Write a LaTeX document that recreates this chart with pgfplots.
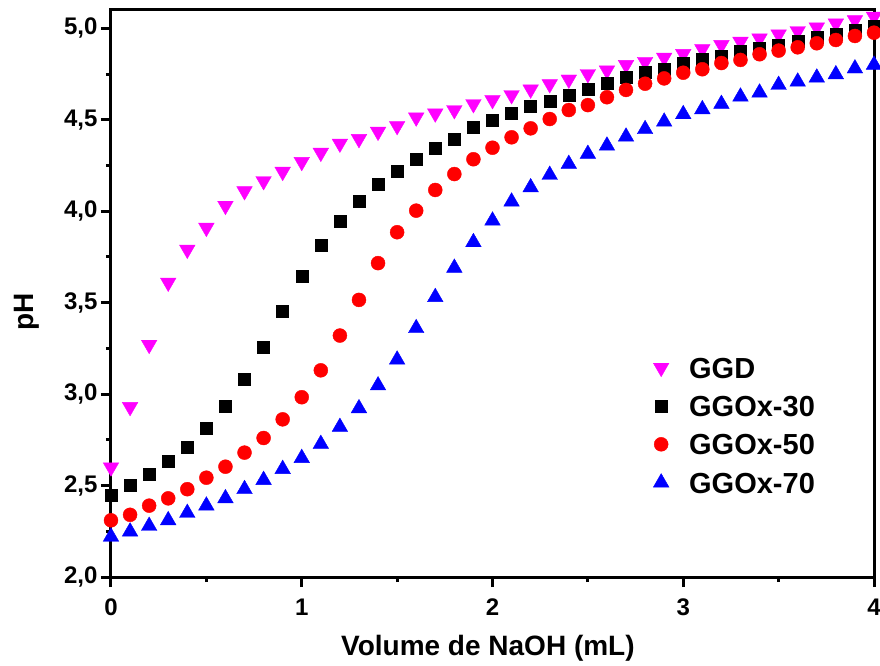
\documentclass[border=0pt]{standalone}
\usepackage{fontspec}
\setmainfont{Liberation Sans}
\usepackage{pgfplots}
\usepackage{pgfplotstable}
\pgfplotsset{compat=1.18}
\definecolor{cggd}{RGB}{255,0,255}
\definecolor{c30}{RGB}{0,0,0}
\definecolor{c50}{RGB}{255,0,0}
\definecolor{c70}{RGB}{0,0,255}

\pgfplotstableread{
x y
0 2.60
0.1 2.93
0.2 3.27
0.3 3.61
0.4 3.79
0.5 3.91
0.6 4.03
0.7 4.11
0.8 4.165
0.9 4.216
1.0 4.27
1.1 4.32
1.2 4.37
1.3 4.395
1.4 4.435
1.5 4.466
1.6 4.513
1.7 4.535
1.8 4.553
1.9 4.586
2.0 4.608
2.1 4.635
2.2 4.666
2.3 4.695
2.4 4.72
2.5 4.75
2.6 4.77
2.7 4.80
2.8 4.817
2.9 4.84
3.0 4.86
3.1 4.887
3.2 4.909
3.3 4.927
3.4 4.945
3.5 4.967
3.6 4.985
3.7 5.005
3.8 5.027
3.9 5.045
4.0 5.064
}\ggd

\pgfplotstableread{
x y
0 2.448
0.1 2.503
0.2 2.563
0.3 2.634
0.4 2.712
0.5 2.813
0.6 2.935
0.7 3.083
0.8 3.254
0.9 3.454
1.0 3.646
1.1 3.815
1.2 3.946
1.3 4.056
1.4 4.147
1.5 4.216
1.6 4.284
1.7 4.347
1.8 4.395
1.9 4.457
2.0 4.495
2.1 4.535
2.2 4.575
2.3 4.604
2.4 4.635
2.5 4.666
2.6 4.70
2.7 4.735
2.8 4.758
2.9 4.778
3.0 4.81
3.1 4.83
3.2 4.85
3.3 4.873
3.4 4.89
3.5 4.909
3.6 4.93
3.7 4.95
3.8 4.97
3.9 4.99
4.0 5.01
}\ggoxA

\pgfplotstableread{
x y
0 2.31
0.1 2.34
0.2 2.39
0.3 2.43
0.4 2.48
0.5 2.543
0.6 2.603
0.7 2.68
0.8 2.76
0.9 2.862
1.0 2.983
1.1 3.13
1.2 3.32
1.3 3.515
1.4 3.716
1.5 3.885
1.6 4.003
1.7 4.116
1.8 4.203
1.9 4.284
2.0 4.347
2.1 4.404
2.2 4.453
2.3 4.504
2.4 4.553
2.5 4.58
2.6 4.623
2.7 4.663
2.8 4.697
2.9 4.726
3.0 4.757
3.1 4.776
3.2 4.81
3.3 4.827
3.4 4.858
3.5 4.878
3.6 4.896
3.7 4.918
3.8 4.936
3.9 4.958
4.0 4.976
}\ggoxB

\pgfplotstableread{
x y
0 2.22
0.1 2.248
0.2 2.279
0.3 2.31
0.4 2.35
0.5 2.39
0.6 2.43
0.7 2.48
0.8 2.53
0.9 2.59
1.0 2.65
1.1 2.727
1.2 2.82
1.3 2.922
1.4 3.047
1.5 3.188
1.6 3.36
1.7 3.53
1.8 3.69
1.9 3.83
2.0 3.948
2.1 4.052
2.2 4.13
2.3 4.198
2.4 4.258
2.5 4.313
2.6 4.358
2.7 4.407
2.8 4.448
2.9 4.489
3.0 4.53
3.1 4.557
3.2 4.586
3.3 4.626
3.4 4.648
3.5 4.69
3.6 4.708
3.7 4.73
3.8 4.748
3.9 4.78
4.0 4.80
}\ggoxC

\begin{document}
\begin{tikzpicture}
\useasboundingbox (-111pt,-89pt) rectangle (769pt,577pt);
\begin{axis}[
  at={(0pt,0pt)}, anchor=south west,
  scale only axis, width=763pt, height=567pt,
  xmin=0, xmax=4, ymin=2, ymax=5.1,
  axis line style={line width=3pt},
  xtick={0,1,2,3,4}, minor x tick num=1,
  ytick={2,2.5,3,3.5,4,4.5,5}, minor y tick num=1,
  tick align=outside, xtick pos=bottom, ytick pos=left,
  major tick length=10pt, minor tick length=5pt,
  tick style={line width=3pt, black},
  /pgf/number format/assume math mode=true,
  ticklabel style={font=\fontsize{24}{24}\selectfont\bfseries},
  xticklabel style={yshift=-8pt},
  yticklabel style={/pgf/number format/.cd, fixed, fixed zerofill, precision=1, use comma},
  xlabel={Volume de NaOH (mL)}, ylabel={pH},
  label style={font=\fontsize{28}{28}\selectfont\bfseries},
  xlabel style={at={(axis description cs:0.494,-0.125)}, anchor=center},
  ylabel style={at={(axis description cs:-0.11,0.467)}, anchor=center},
  axis on top,
  legend image code/.code={\path[draw=none,fill=none] (-10pt,-10.5pt) rectangle (10pt,10.5pt); \draw[#1] plot coordinates {(0pt,0pt)};},
  legend cell align=left,
  legend style={draw=none, fill=none, inner sep=0pt,
    at={(axis description cs:0.7077,0.388)}, anchor=north west,
    font=\fontsize{29}{29}\selectfont\bfseries,
    nodes={inner sep=0pt, text height=21pt, text depth=0pt},
    row sep=17.3pt, column sep=18pt},
]
\addplot[only marks, color=cggd, mark=triangle*, mark size=9pt, mark options={rotate=180, fill=cggd, draw=cggd}] table {\ggd};
\addlegendentry{GGD}
\addplot[only marks, color=c30, mark=square*, mark size=6pt, mark options={fill=c30, draw=c30}] table {\ggoxA};
\addlegendentry{GGOx-30}
\addplot[only marks, color=c50, mark=*, mark size=7pt, mark options={fill=c50, draw=c50}] table {\ggoxB};
\addlegendentry{GGOx-50}
\addplot[only marks, color=c70, mark=triangle*, mark size=9pt, mark options={fill=c70, draw=c70}] table {\ggoxC};
\addlegendentry{GGOx-70}
\end{axis}
\end{tikzpicture}
\end{document}
